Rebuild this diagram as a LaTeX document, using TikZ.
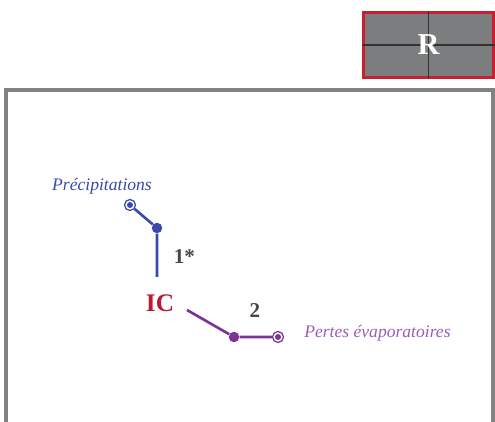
\documentclass[tikz,border=0pt]{standalone}
\usepackage{fontspec}
\setmainfont{Liberation Serif}
\definecolor{precipBlue}{HTML}{3A4AA8}
\definecolor{evapPurple}{HTML}{7A3396}
\definecolor{evapText}{HTML}{9B5CB8}
\definecolor{icRed}{HTML}{B51D35}
\definecolor{numGray}{HTML}{474747}
\definecolor{frameGray}{HTML}{7F8382}
\definecolor{rGray}{HTML}{7B7D7E}
\definecolor{rRed}{HTML}{C8202F}
\usetikzlibrary{positioning}

\begin{document}
\begin{tikzpicture}[
  dot/.style={circle, fill=#1, inner sep=0pt, minimum size=2.1mm},
  endpt/.style={circle, draw=#1, line width=0.7pt, fill=white, inner sep=0pt, minimum size=2.2mm,
    path picture={\fill[#1] (path picture bounding box.center) circle (0.6mm);}},
  link/.style={draw=#1, line width=1.5pt},
  num/.style={font=\bfseries\large, text=numGray},
  src/.style={font=\itshape\normalsize}
]
  \useasboundingbox (0,0) rectangle (9.9,-8.44);
  \draw[frameGray, line width=1.8pt] (0.12,-8.6) |- (9.86,-1.8) -- (9.86,-8.6);

  \node[draw=rRed, fill=rGray, line width=1.3pt, minimum width=2.6cm, minimum height=1.3cm] (rbox) at (8.57,-0.9) {};
  \draw[line width=0.8pt, black!80] (rbox.north) -- (rbox.south) (rbox.west) -- (rbox.east);
  \node[text=white, font=\bfseries\LARGE] (rlbl) at (rbox) {R};

  \node[endpt=precipBlue] (pin) at (2.6,-4.1) {};
  \node[dot=precipBlue] (pdot) at (3.14,-4.56) {};
  \coordinate (pend) at (3.14,-5.54);
  \node[src, text=precipBlue, above=-0.03cm of pin, xshift=-0.56cm] (plbl) {Précipitations};
  \draw[link=precipBlue] (pin) -- (pdot) -- (pend);
  \node[num, right=0.1cm of pdot, yshift=-0.58cm] (n1) {1*};

  \node[font=\bfseries\Large, text=icRed] (ic) at (3.2,-6.06) {IC};

  \coordinate (estart) at (3.74,-6.2);
  \node[dot=evapPurple] (edot) at (4.68,-6.74) {};
  \node[endpt=evapPurple] (eout) at (5.56,-6.74) {};
  \draw[link=evapPurple] (estart) -- (edot) -- (eout);
  \node[num] (n2) at (5.1,-6.22) {2};
  \node[src, text=evapText, right=0.28cm of eout, yshift=0.08cm] (elbl) {Pertes évaporatoires};
\end{tikzpicture}
\end{document}
